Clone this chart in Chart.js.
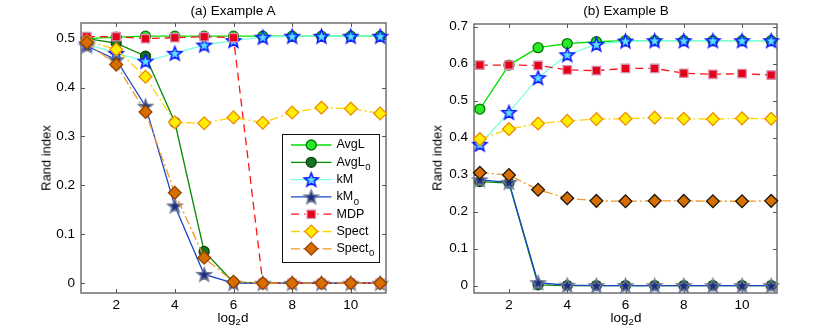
<!DOCTYPE html>
<html><head><meta charset="utf-8">
<script src="https://cdn.jsdelivr.net/npm/chart.js@4/dist/chart.umd.min.js"></script>
<style>
html,body{margin:0;padding:0;background:#fff}
body{width:830px;height:332px;overflow:hidden;position:relative;font-family:"Liberation Sans",Arial,Helvetica,sans-serif;color:#000}
.pane{position:absolute;top:0;width:415px;height:332px}
canvas{display:block}
.lbl{position:absolute;white-space:nowrap;transform:translate(-50%,-50%);line-height:1}
.rot{transform:translate(-50%,-50%) rotate(-90deg)}
sub{font-size:9.5px;vertical-align:-3px;line-height:0}
</style>
</head><body>
<div class="pane" style="left:0"><canvas id="cA" width="415" height="332"></canvas></div>
<div class="pane" style="left:415px"><canvas id="cB" width="415" height="332"></canvas></div>
<div class="lbl" style="left:233px;top:11px;font-size:13.5px">(a) Example A</div>
<div class="lbl" style="left:626px;top:11px;font-size:13.5px">(b) Example B</div>
<div class="lbl rot" style="left:46px;top:158px;font-size:13px">Rand index</div>
<div class="lbl rot" style="left:437px;top:158px;font-size:13px">Rand index</div>
<div class="lbl" style="left:233px;top:318px;font-size:13.5px">log<sub>2</sub>d</div>
<div class="lbl" style="left:626px;top:318px;font-size:13.5px">log<sub>2</sub>d</div>
<script>
// ---------- data ----------
const xValues = [1,2,3,4,5,6,7,8,9,10,11];
const seriesNames = ['AvgL','AvgL_0','kM','kM_0','MDP','Spect','Spect_0'];
const xTicks = [2,4,6,8,10];
const yTicksA = [0,0.1,0.2,0.3,0.4,0.5];
const yTicksB = [0,0.1,0.2,0.3,0.4,0.5,0.6,0.7];

// Example A
const avgL_A   = [0.500,0.503,0.505,0.505,0.505,0.505,0.505,0.505,0.505,0.505,0.505];
const avgL0_A  = [0.500,0.491,0.464,0.329,0.065,0.002,0,0,0,0,0];
const kM_A     = [0.489,0.470,0.454,0.470,0.487,0.496,0.503,0.505,0.505,0.505,0.505];
const kM0_A    = [0.485,0.457,0.362,0.158,0.018,0,0,0,0,0,0];
const mdp_A    = [0.504,0.504,0.500,0.502,0.504,0.502,0,0,0,0,0];
const spect_A  = [0.495,0.478,0.422,0.329,0.327,0.339,0.328,0.349,0.359,0.357,0.347];
const spect0_A = [0.492,0.447,0.350,0.185,0.052,0.003,0,0,0,0,0];

// Example B
const avgL_B   = [0.477,0.596,0.643,0.654,0.659,0.662,0.662,0.662,0.662,0.662,0.662];
const avgL0_B  = [0.281,0.277,0.002,0,0,0,0,0,0,0,0];
const kM_B     = [0.382,0.468,0.562,0.624,0.652,0.661,0.662,0.662,0.662,0.662,0.662];
const kM0_B    = [0.286,0.279,0.008,0.001,0,0,0,0,0,0,0];
const mdp_B    = [0.596,0.596,0.595,0.583,0.581,0.587,0.587,0.574,0.571,0.573,0.569];
const spect_B  = [0.396,0.423,0.438,0.445,0.450,0.451,0.454,0.451,0.450,0.452,0.451];
const spect0_B = [0.305,0.299,0.259,0.236,0.229,0.228,0.229,0.229,0.228,0.228,0.229];

// ---------- styles ----------
const FONT = '"Liberation Sans", Arial, Helvetica, sans-serif';
function makeStar(fill, stroke, R) {
  const s = Math.ceil(2*R + 4);
  const c = document.createElement('canvas');
  c.width = s; c.height = s;
  const g = c.getContext('2d');
  const cx = s/2, cy = s/2 + 0.6, r = R*0.42;
  g.beginPath();
  for (let i = 0; i < 10; i++) {
    const a = -Math.PI/2 + i*Math.PI/5;
    const rr = i % 2 ? r : R;
    const px = cx + rr*Math.cos(a), py = cy + rr*Math.sin(a);
    i ? g.lineTo(px, py) : g.moveTo(px, py);
  }
  g.closePath();
  g.fillStyle = fill; g.fill();
  g.lineWidth = 1.5; g.strokeStyle = stroke; g.stroke();
  return c;
}
const starKM = makeStar('rgb(90,225,255)', 'rgb(10,20,255)', 7.3);
const starKM0 = makeStar('rgb(25,45,130)', 'rgb(110,120,150)', 7.3);

function styleSet(spect0Edge) {
  return [
    {line:'rgb(0,225,0)',   fill:'rgb(40,232,40)',  edge:'rgb(0,120,0)',    shape:'circle', r:5,   dash:[]},
    {line:'rgb(0,140,0)',   fill:'rgb(20,115,30)',  edge:'rgb(10,70,10)',   shape:'circle', r:5,   dash:[]},
    {line:'rgb(120,255,225)',fill:'rgb(90,225,255)',edge:'rgb(10,20,255)',  shape:starKM,   r:7,   dash:[]},
    {line:'rgb(25,70,200)', fill:'rgb(25,45,130)',  edge:'rgb(110,120,150)',shape:starKM0,  r:7,   dash:[]},
    {line:'rgb(255,20,20)', fill:'rgb(228,0,25)',   edge:'rgb(215,140,170)',shape:'rect',   r:5.9, dash:[8,5]},
    {line:'rgb(255,210,0)', fill:'rgb(255,238,0)',  edge:'rgb(240,140,0)',  shape:'rectRot',r:6.4, dash:[9,3,2,3]},
    {line:'rgb(240,150,40)',fill:'rgb(215,110,0)',  edge:spect0Edge,        shape:'rectRot',r:6.4, dash:[9,3,2,3]}
  ];
}

function buildDatasets(seriesList, styles) {
  return seriesList.map((vals, i) => {
    const st = styles[i];
    return {
      label: seriesNames[i],
      data: xValues.map((x, k) => ({x: x, y: vals[k]})),
      borderColor: st.line,
      borderWidth: 1.3,
      borderDash: st.dash,
      backgroundColor: st.fill,
      pointStyle: st.shape,
      pointRadius: st.r,
      pointHoverRadius: st.r,
      pointBackgroundColor: st.fill,
      pointBorderColor: st.edge,
      pointBorderWidth: 1.3,
      tension: 0,
      fill: false,
      clip: false,
      order: seriesList.length - i
    };
  });
}

// ---------- plugins ----------
const frameTicks = {
  id: 'frameTicks',
  beforeDatasetsDraw(chart) {
    const {ctx, chartArea: ca, scales: {x, y}} = chart;
    ctx.save();
    ctx.strokeStyle = '#666';
    ctx.lineWidth = 1.4;
    ctx.strokeRect(ca.left, ca.top, ca.right - ca.left, ca.bottom - ca.top);
    ctx.lineWidth = 1;
    ctx.strokeStyle = '#555';
    const L = 4;
    ctx.beginPath();
    x.ticks.forEach(t => {
      const px = Math.round(x.getPixelForValue(t.value)) + 0.5;
      ctx.moveTo(px, ca.bottom); ctx.lineTo(px, ca.bottom - L);
      ctx.moveTo(px, ca.top); ctx.lineTo(px, ca.top + L);
    });
    y.ticks.forEach(t => {
      const py = Math.round(y.getPixelForValue(t.value)) + 0.5;
      ctx.moveTo(ca.left, py); ctx.lineTo(ca.left + L, py);
      ctx.moveTo(ca.right, py); ctx.lineTo(ca.right - L, py);
    });
    ctx.stroke();
    ctx.restore();
  }
};

function drawMarker(ctx, ds, cx, cy) {
  const st = ds.pointStyle, r = ds.pointRadius;
  if (typeof st === 'object') {
    ctx.drawImage(st, cx - st.width/2, cy - st.height/2);
    return;
  }
  ctx.beginPath();
  if (st === 'circle') {
    ctx.arc(cx, cy, r, 0, Math.PI*2);
  } else if (st === 'rect') {
    const s = Math.SQRT1_2 * r;
    ctx.rect(cx - s, cy - s, 2*s, 2*s);
  } else if (st === 'rectRot') {
    ctx.moveTo(cx, cy - r); ctx.lineTo(cx + r, cy); ctx.lineTo(cx, cy + r); ctx.lineTo(cx - r, cy); ctx.closePath();
  }
  ctx.fillStyle = ds.pointBackgroundColor; ctx.fill();
  ctx.lineWidth = ds.pointBorderWidth; ctx.strokeStyle = ds.pointBorderColor; ctx.stroke();
}

const boxLegend = {
  id: 'boxLegend',
  afterDatasetsDraw(chart) {
    const {ctx, chartArea: ca} = chart;
    const x1 = ca.right - 103.5, x2 = ca.right - 6.5, y1 = 134.5, y2 = 262.5;
    ctx.save();
    ctx.fillStyle = '#fff';
    ctx.fillRect(x1, y1, x2 - x1, y2 - y1);
    ctx.strokeStyle = '#111'; ctx.lineWidth = 1;
    ctx.strokeRect(x1, y1, x2 - x1, y2 - y1);
    chart.data.datasets.forEach((ds, i) => {
      const cy = y1 + 10.5 + i * 17.3;
      const lx1 = x1 + 8.5, lx2 = x1 + 49, mx = (lx1 + lx2) / 2;
      ctx.beginPath();
      ctx.setLineDash(ds.borderDash || []);
      ctx.strokeStyle = ds.borderColor; ctx.lineWidth = ds.borderWidth;
      if (ds.borderDash && ds.borderDash.length) {
        ctx.moveTo(lx1, cy); ctx.lineTo(mx - 6, cy);
        ctx.moveTo(lx2, cy); ctx.lineTo(mx + 6, cy);
      } else {
        ctx.moveTo(lx1, cy); ctx.lineTo(lx2, cy);
      }
      ctx.stroke();
      ctx.setLineDash([]);
      drawMarker(ctx, ds, mx, cy);
      const parts = ds.label.split('_');
      ctx.fillStyle = '#000';
      ctx.textBaseline = 'middle';
      ctx.font = '12.5px ' + FONT;
      const tx = x1 + 54;
      ctx.fillText(parts[0], tx, cy);
      if (parts[1]) {
        const w = ctx.measureText(parts[0]).width;
        ctx.font = '9.5px ' + FONT;
        ctx.fillText(parts[1], tx + w + 0.5, cy + 5);
      }
    });
    ctx.restore();
  }
};

function makeChart(id, seriesList, styles, yMin, yMax, yTicks, padding, withLegend) {
  const plugins = [frameTicks];
  if (withLegend) plugins.push(boxLegend);
  return new Chart(document.getElementById(id), {
    type: 'line',
    data: { datasets: buildDatasets(seriesList, styles) },
    options: {
      responsive: false,
      animation: false,
      devicePixelRatio: 1,
      layout: { padding: padding },
      plugins: { legend: {display: false}, title: {display: false}, tooltip: {enabled: false} },
      events: [],
      scales: {
        x: {
          type: 'linear', min: 0.8, max: 11.2,
          grid: {display: false, drawTicks: false},
          border: {display: false},
          ticks: {padding: 4, color: '#000', font: {size: 13.5, family: FONT}, maxRotation: 0, autoSkip: false,
                  callback: v => String(v)},
          afterBuildTicks: s => { s.ticks = xTicks.map(v => ({value: v})); },
          afterFit: s => { s.height = 20; }
        },
        y: {
          type: 'linear', min: yMin, max: yMax,
          grid: {display: false, drawTicks: false},
          border: {display: false},
          ticks: {padding: 6, color: '#000', font: {size: 13.5, family: FONT}, autoSkip: false,
                  callback: v => String(v)},
          afterBuildTicks: s => { s.ticks = yTicks.map(v => ({value: v})); },
          afterFit: s => { s.width = 40; }
        }
      }
    },
    plugins: plugins
  });
}

makeChart('cA',
  [avgL_A, avgL0_A, kM_A, kM0_A, mdp_A, spect_A, spect0_A],
  styleSet('rgb(150,65,0)'),
  -0.02, 0.532, yTicksA,
  {left: 41, right: 29, top: 23, bottom: 19}, true);

makeChart('cB',
  [avgL_B, avgL0_B, kM_B, kM0_B, mdp_B, spect_B, spect0_B],
  styleSet('rgb(25,20,10)'),
  -0.02, 0.707, yTicksB,
  {left: 19, right: 53, top: 24, bottom: 19}, false);
</script>
</body></html>
